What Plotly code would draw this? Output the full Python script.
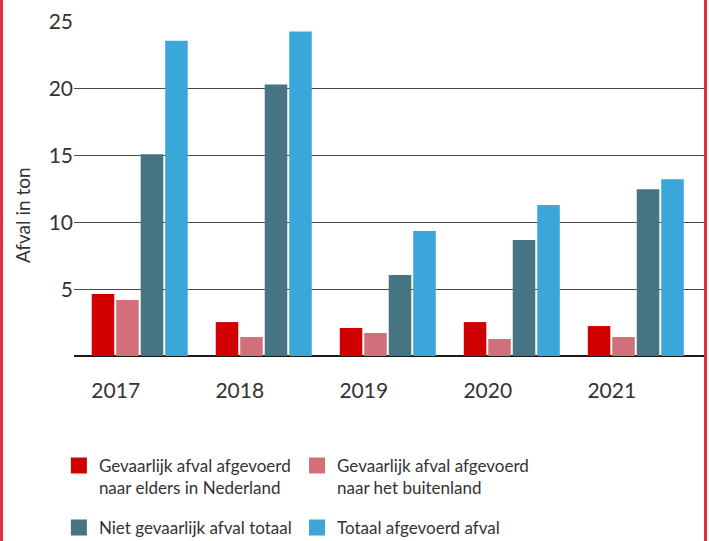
import plotly.graph_objects as go

years = ["2017", "2018", "2019", "2020", "2021"]

series_names = [
    "Gevaarlijk afval afgevoerd<br>naar elders in Nederland",
    "Gevaarlijk afval afgevoerd<br>naar het buitenland",
    "Niet gevaarlijk afval totaal",
    "Totaal afgevoerd afval",
]
gevaarlijk_nl = [4.64, 2.54, 2.1, 2.54, 2.24]
gevaarlijk_buitenland = [4.19, 1.42, 1.72, 1.27, 1.42]
niet_gevaarlijk = [15.1, 20.33, 6.06, 8.68, 12.48]
totaal = [23.6, 24.29, 9.36, 11.3, 13.23]

colors = ["#D00000", "#D1707A", "#467482", "#3AA6D9"]
values = [gevaarlijk_nl, gevaarlijk_buitenland, niet_gevaarlijk, totaal]
# two legend columns, two rows
legend_ids = ["legend", "legend2", "legend", "legend2"]
legend_rows = ["row1", "row1", "row2", "row2"]

FONT = "Lato, 'Open Sans', sans-serif"
TEXT = "#333333"

fig = go.Figure()
for name, vals, color in zip(series_names, values, colors):
    fig.add_trace(go.Bar(x=years, y=vals, name=name, marker_color=color,
                         marker_line_width=0, showlegend=False))
# legend entries with bigger square swatches
for name, color, leg, row in zip(series_names, colors, legend_ids, legend_rows):
    fig.add_trace(go.Scatter(x=[None], y=[None], mode="markers", name=name,
                             legend=leg, legendgroup=row,
                             marker=dict(symbol="square", size=16, color=color)))

# red frame lines at the left and right edge of the picture
for xp in [(1.5 - 74) / 630, (705.5 - 74) / 630]:
    fig.add_shape(type="line", xref="paper", yref="paper", x0=xp, x1=xp, y0=-2, y1=2,
                  line=dict(color="#DC3240", width=3))

# y axis title sits a bit below the middle of the plot in the original
fig.add_annotation(text="Afval in ton", xref="paper", yref="paper", x=-0.0825, y=0.422,
                   xanchor="center", yanchor="middle", textangle=-90, showarrow=False,
                   font=dict(size=19, color=TEXT))

legend_style = dict(
    orientation="v",
    xanchor="left",
    y=-0.275,
    yanchor="top",
    valign="top",
    font=dict(size=17, color=TEXT),
    traceorder="grouped",
    tracegroupgap=15,
    itemclick=False,
    bgcolor="rgba(0,0,0,0)",
)

fig.update_layout(
    width=709,
    height=541,
    margin=dict(l=74, r=5, t=22, b=185, autoexpand=False),
    paper_bgcolor="white",
    plot_bgcolor="white",
    font=dict(family=FONT, color=TEXT, size=20),
    barmode="group",
    bargap=0.21,
    bargroupgap=0.08,
    showlegend=True,
    legend=dict(x=-0.024, **legend_style),
    legend2=dict(x=0.354, **legend_style),
)
fig.update_xaxes(
    type="category",
    range=[-0.53, 4.55],
    showgrid=False,
    showline=False,
    ticks="",
    automargin=False,
    tickfont=dict(size=21, color=TEXT),
    ticklabelshift=-24,
    ticklabelstandoff=20,
)
fig.update_yaxes(
    range=[0, 25],
    tickvals=[5, 10, 15, 20, 25],
    showgrid=True,
    gridcolor="#4a4a4a",
    gridwidth=1.3,
    zeroline=True,
    zerolinecolor="#1a1a1a",
    zerolinewidth=1.5,
    showline=False,
    ticks="",
    automargin=False,
    tickfont=dict(size=21, color=TEXT),
)

fig.write_html("out.html", config={"displayModeBar": False},
               post_script="document.body.style.margin='0';")
